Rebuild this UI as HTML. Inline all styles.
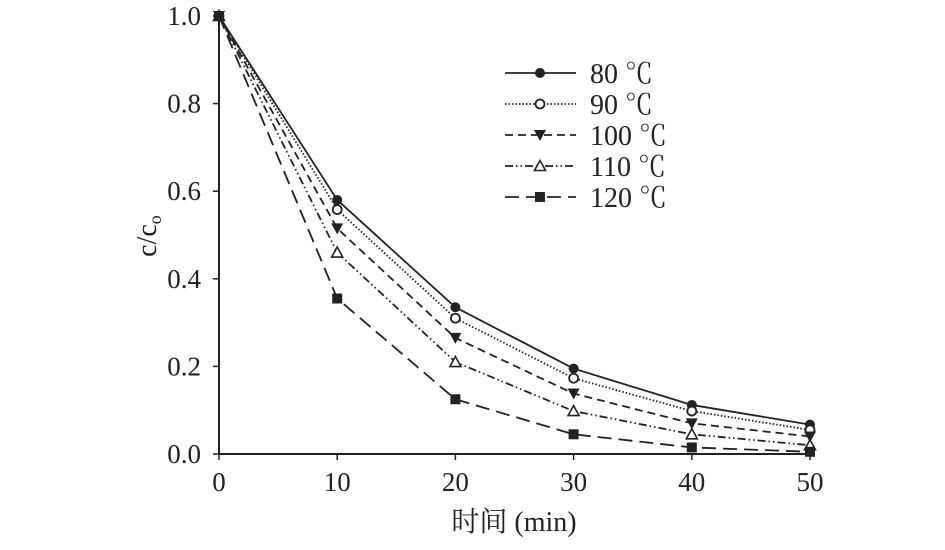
<!DOCTYPE html>
<html><head><meta charset="utf-8"><style>
body{margin:0;background:#fff}
svg text{font-family:"Liberation Serif","Noto Serif CJK SC",serif;fill:#222}
</style></head><body>
<svg id="c" width="945" height="545" viewBox="0 0 945 545"></svg>
<script>
const xs=[0,10,20,30,40,50];
const names=["80 ℃","90 ℃","100 ℃","110 ℃","120 ℃"];
const s80=[1,0.58,0.335,0.195,0.112,0.067];
const s90=[1,0.558,0.31,0.173,0.098,0.055];
const s100=[1,0.515,0.265,0.138,0.07,0.04];
const s110=[1,0.46,0.21,0.098,0.045,0.02];
const s120=[1,0.355,0.125,0.045,0.015,0.005];
const yTicks=["0.0","0.2","0.4","0.6","0.8","1.0"];
const xTicks=["0","10","20","30","40","50"];
const series=[s80,s90,s100,s110,s120];
const dashes=["","1.5,2","8,5","8,3,1.5,3,1.5,3","14,7"];
const markers=["circle-filled","circle-open","tri-down","tri-up-open","square"];
const svg=document.getElementById('c');const NS="http://www.w3.org/2000/svg";
const X=v=>219+v*11.82, Y=v=>454-v*438;
function mk(t,a,p){const e=document.createElementNS(NS,t);for(const k in a)e.setAttribute(k,a[k]);(p||svg).appendChild(e);return e;}
function marker(type,x,y,g){
 if(type=="circle-filled")return mk('circle',{cx:x,cy:y,r:5,fill:'#222'},g);
 if(type=="circle-open")return mk('circle',{cx:x,cy:y,r:4.5,fill:'#fff',stroke:'#222','stroke-width':1.8},g);
 if(type=="tri-down")return mk('polygon',{points:`${x-6},${y-5} ${x+6},${y-5} ${x},${y+6}`,fill:'#222'},g);
 if(type=="tri-up-open")return mk('polygon',{points:`${x-5.5},${y+4.5} ${x+5.5},${y+4.5} ${x},${y-5.5}`,fill:'#fff',stroke:'#222','stroke-width':1.6},g);
 return mk('rect',{x:x-5,y:y-5,width:10,height:10,fill:'#222'},g);
}
let ax=mk('line',{x1:219,y1:16,x2:219,y2:455,stroke:'#222','stroke-width':2});

ax=mk('line',{x1:218,y1:454,x2:811,y2:454,stroke:'#222','stroke-width':2});

yTicks.forEach((t,i)=>{const v=i*0.2;mk('line',{x1:213,y1:Y(v),x2:219,y2:Y(v),stroke:'#222','stroke-width':1.5});
 const e=mk('text',{x:201,y:Y(v)+9,'text-anchor':'end','font-size':27});e.textContent=t;
 });
xTicks.forEach((t,i)=>{const v=xs[i];mk('line',{x1:X(v),y1:454,x2:X(v),y2:460,stroke:'#222','stroke-width':1.5});
 const e=mk('text',{x:X(v),y:491,'text-anchor':'middle','font-size':27});e.textContent=t;
 });
let t=mk('text',{x:514,y:531,'text-anchor':'middle','font-size':28});t.textContent="时间 (min)";

t=mk('text',{x:0,y:0,'text-anchor':'middle','font-size':28,transform:'translate(156,236) rotate(-90)'});
t.innerHTML='c/c<tspan font-size="18" dy="5">o</tspan>';

series.forEach((s,k)=>{
 const g=mk('g',{});
 mk('polyline',{points:s.map((v,i)=>X(xs[i])+','+Y(v)).join(' '),fill:'none',stroke:'#222','stroke-width':1.8,'stroke-dasharray':dashes[k]},g);
 s.forEach((v,i)=>{const m=marker(markers[k],X(xs[i]),Y(v),g);});
 const ly=73+k*31;
 const lg=mk('g',{},svg);
 mk('line',{x1:505,y1:ly,x2:576,y2:ly,stroke:'#222','stroke-width':1.8,'stroke-dasharray':dashes[k]},lg);
 marker(markers[k],540,ly,lg);
 const tx=mk('text',{x:590,y:ly+10,'font-size':28},lg);tx.textContent=names[k];
});
</script>
</body></html>
